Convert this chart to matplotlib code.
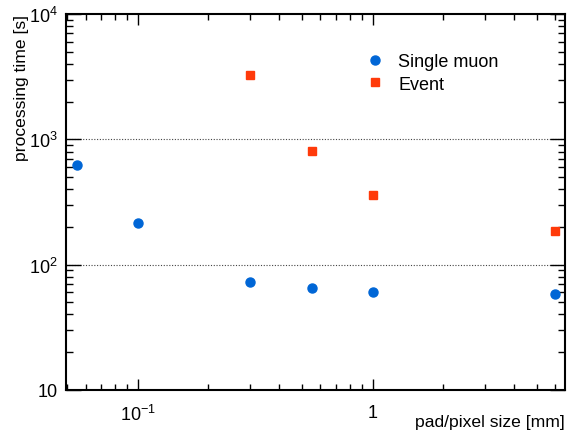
import numpy as np
import matplotlib
matplotlib.use("Agg")
import matplotlib.pyplot as plt
from matplotlib.ticker import FixedLocator, FixedFormatter, LogLocator, NullFormatter

plt.rcParams['font.family'] = ['Liberation Sans', 'DejaVu Sans']
plt.rcParams['mathtext.fontset'] = 'custom'
plt.rcParams['mathtext.rm'] = 'Liberation Sans'

# pad/pixel size [mm]
size_muon = [0.055, 0.1, 0.3, 0.55, 1.0, 6.0]
time_muon = [624, 215, 72.6, 65, 60.4, 58]
size_event = [0.3, 0.55, 1.0, 6.0]
time_event = [3260, 807, 359, 185]

fig = plt.figure(figsize=(5.69, 4.31), dpi=100)
ax = fig.add_axes([0.116, 0.093, 0.877, 0.872])

ax.plot(size_muon, time_muon, 'o', color='#0066d6', markersize=6.5, label='Single muon', zorder=3)
ax.plot(size_event, time_event, 's', color='#ff3a0a', markersize=5.8, label='Event', zorder=3)

ax.set_xscale('log')
ax.set_yscale('log')
ax.set_xlim(0.0495, 6.6)
ax.set_ylim(10, 1e4)

# dotted grid only at 10^2 and 10^3
for yv in [1e2, 1e3]:
    ax.axhline(yv, color='#444444', linestyle=(0, (1, 1.5)), linewidth=0.8, zorder=1)

ax.xaxis.set_major_locator(FixedLocator([0.1, 1]))
ax.xaxis.set_major_formatter(FixedFormatter([r'$10^{-1}$', '1']))
ax.xaxis.set_minor_locator(LogLocator(base=10, subs=np.arange(2, 10), numticks=20))
ax.xaxis.set_minor_formatter(NullFormatter())
ax.yaxis.set_major_locator(FixedLocator([10, 100, 1000, 10000]))
ax.yaxis.set_major_formatter(FixedFormatter(['10', r'$10^{2}$', r'$10^{3}$', r'$10^{4}$']))
ax.yaxis.set_minor_locator(LogLocator(base=10, subs=np.arange(2, 10), numticks=20))
ax.yaxis.set_minor_formatter(NullFormatter())

ax.tick_params(which='both', direction='in', top=True, right=True, width=1.0, labelsize=13)
ax.tick_params(axis='x', which='major', length=8, pad=10)
ax.tick_params(axis='x', which='minor', length=4.3)
ax.tick_params(axis='y', which='major', length=10.8, pad=6)
ax.tick_params(axis='y', which='minor', length=5)
for s in ax.spines.values():
    s.set_linewidth(1.5)

fig.text(0.993, 0.02, 'pad/pixel size [mm]', fontsize=12.6, ha='right', va='center')
ax.set_ylabel('processing time [s]', fontsize=12.6, loc='top', labelpad=0)

ax.legend(loc='upper left', bbox_to_anchor=(0.568, 0.915), frameon=False, fontsize=13,
          handletextpad=0.3, labelspacing=0.3, borderaxespad=0)

fig.savefig('out.png', dpi=100)
